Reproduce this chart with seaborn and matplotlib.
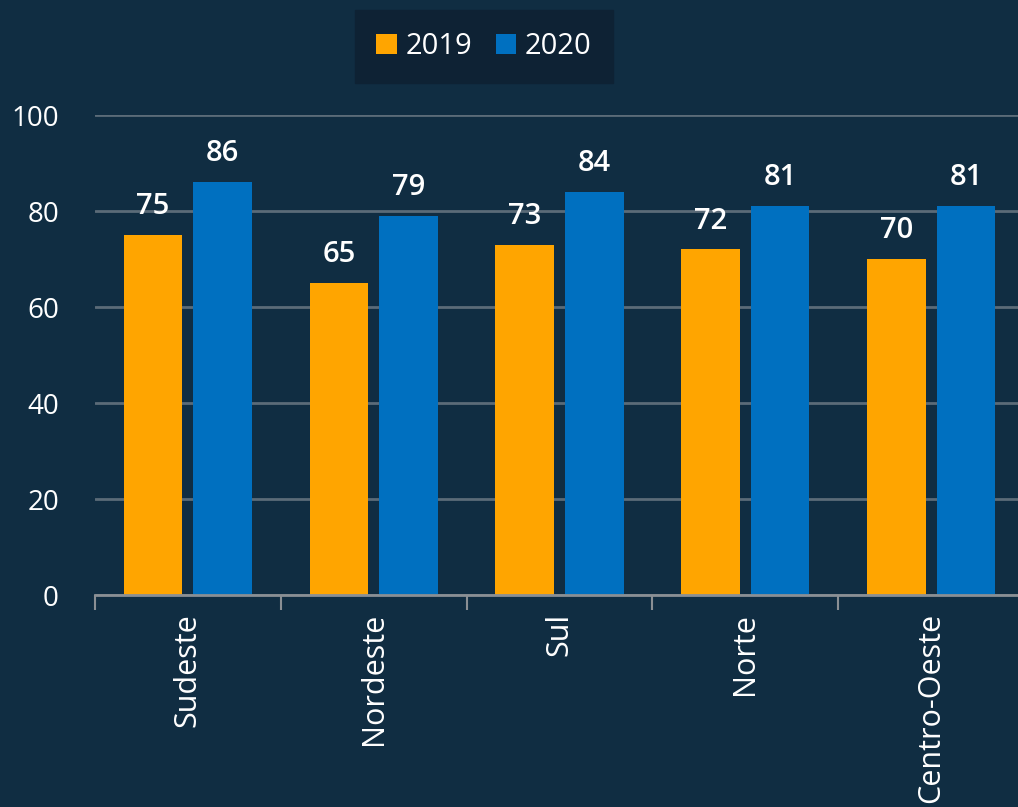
import matplotlib
matplotlib.use("Agg")
import matplotlib.pyplot as plt
import seaborn as sns
import pandas as pd
from matplotlib.patches import Patch

regions = ["Sudeste", "Nordeste", "Sul", "Norte", "Centro-Oeste"]
years = ["2019", "2020"]
values_2019 = [75, 65, 73, 72, 70]
values_2020 = [86, 79, 84, 81, 81]
y_ticks = [0, 20, 40, 60, 80, 100]

BG = "#102d42"
LEG_BG = "#0e2234"
ORANGE = "#FFA500"
BLUE = "#0070C0"
GRID = "#5b6b78"
AXIS = "#8a8f94"

df = pd.DataFrame({
    "region": regions * 2,
    "year": [years[0]] * len(regions) + [years[1]] * len(regions),
    "value": values_2019 + values_2020,
})

sns.set_theme(style="dark")
plt.rcParams["font.family"] = ["Open Sans", "DejaVu Sans"]

fig = plt.figure(figsize=(10.18, 8.07), dpi=100, facecolor=BG)
ax = fig.add_axes([95 / 1018, 1 - 595 / 807, (1024 - 95) / 1018, 480 / 807])
ax.set_facecolor(BG)

sns.barplot(data=df, x="region", y="value", hue="year", palette=[ORANGE, BLUE],
            saturation=1, width=0.75, gap=0.16, ax=ax, legend=False, linewidth=0)

for cont in ax.containers:
    ax.bar_label(cont, padding=10, color="white", fontsize=21, fontweight="semibold")

ax.set_xlim(-0.5, len(regions) - 0.5)
ax.set_ylim(0, 100)
ax.set_yticks(y_ticks)
ax.set_yticklabels([str(t) for t in y_ticks], color="white", fontsize=20)
ax.tick_params(axis="y", length=0, pad=26, left=False)
ax.set_xticks(range(len(regions)))
ax.set_xticklabels(regions, rotation=90, color="white", fontsize=22)
ax.tick_params(axis="x", which="major", length=0, pad=13)
ax.set_xticks([i - 0.5 for i in range(len(regions) + 1)], minor=True)
ax.tick_params(axis="x", which="minor", bottom=True, length=11, width=1.5,
               color=AXIS, direction="out")
ax.set_xlabel("")
ax.set_ylabel("")

ax.grid(axis="y", color=GRID, linewidth=2)
ax.grid(axis="x", visible=False)
ax.set_axisbelow(True)
for s in ["top", "right", "left"]:
    ax.spines[s].set_visible(False)
ax.spines["bottom"].set_visible(True)
ax.spines["bottom"].set_color(AXIS)
ax.spines["bottom"].set_linewidth(2)

handles = [Patch(facecolor=ORANGE, edgecolor="none"), Patch(facecolor=BLUE, edgecolor="none")]
leg = ax.legend(handles, years, loc="center", bbox_to_anchor=(484 / 1018, 1 - 46.5 / 807),
                bbox_transform=fig.transFigure, ncol=2, fontsize=21, frameon=True,
                fancybox=False, facecolor=LEG_BG, edgecolor=LEG_BG, framealpha=1,
                handlelength=0.7, handleheight=0.7, handletextpad=0.3, columnspacing=0.8,
                borderpad=0.75)
for t in leg.get_texts():
    t.set_color("white")

fig.savefig("out.png", dpi=100, facecolor=BG)
